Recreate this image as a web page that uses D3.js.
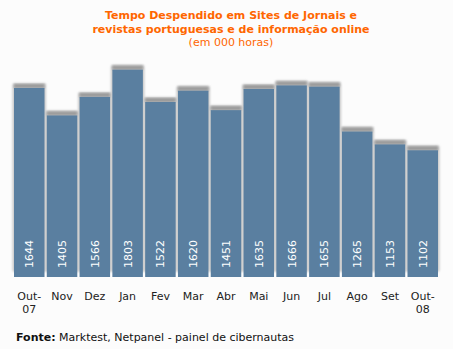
<!DOCTYPE html>
<html><head><meta charset="utf-8">
<script src="https://cdn.jsdelivr.net/npm/d3@7"></script>
<style>body{margin:0;background:#fcfcfc}svg{display:block}</style>
</head><body>
<script>
const months = ["Out-|07","Nov","Dez","Jan","Fev","Mar","Abr","Mai","Jun","Jul","Ago","Set","Out-|08"];
const values = [1644,1405,1566,1803,1522,1620,1451,1635,1666,1655,1265,1153,1102];
const titleLines = ["Tempo Despendido em Sites de Jornais e","revistas portuguesas e de informação online"];
const subtitle = "(em 000 horas)";

const W=453,H=349;
const svg=d3.select("body").append("svg").attr("width",W).attr("height",H);
svg.append("rect").attr("width",W).attr("height",H).attr("fill","#fcfcfc");
const defs=svg.append("defs");
const f=defs.append("filter").attr("id","blur").attr("x","-20%").attr("y","-20%").attr("width","140%").attr("height","140%");
f.append("feGaussianBlur").attr("stdDeviation",1.2);

const font="DejaVu Sans, Verdana, sans-serif";
const x=d3.scaleBand().domain(d3.range(months.length)).range([14,438]).paddingInner(0.07).paddingOuter(0);
const y=d3.scaleLinear().domain([0,2000]).range([277,47]);

const g=svg.append("g");
g.selectAll("rect.sh").data(values).join("rect")
 .attr("x",(d,i)=>x(i)-1.5).attr("width",x.bandwidth()+3)
 .attr("y",d=>y(d)-5).attr("height",d=>y(0)-y(d))
 .attr("rx",2).attr("fill","#c8c8c8").attr("filter","url(#blur)");
g.selectAll("rect.sh2").data(values).join("rect")
 .attr("x",(d,i)=>x(i)).attr("width",x.bandwidth())
 .attr("y",d=>y(d)-4).attr("height",4)
 .attr("fill","#9a9a9a").attr("filter","url(#blur)");
g.selectAll("rect.bar").data(values).join("rect")
 .attr("x",(d,i)=>x(i)).attr("width",x.bandwidth())
 .attr("y",d=>y(d)).attr("height",d=>y(0)-y(d))
 .attr("fill","#5a7fa0");
g.selectAll("text.v").data(values).join("text")
 .attr("transform",(d,i)=>`translate(${x(i)+x.bandwidth()/2+4},268) rotate(-90)`)
 .attr("fill","#fff").attr("font-family",font).attr("font-size",11)
 .text(d=>d);

months.forEach((m,i)=>{
  const parts=m.split("|");
  const t=svg.append("text").attr("x",x(i)+x.bandwidth()/2).attr("y",300)
    .attr("text-anchor","middle").attr("font-family",font).attr("font-size",11).attr("fill","#222");
  parts.forEach((p,j)=>t.append("tspan").attr("x",x(i)+x.bandwidth()/2).attr("dy",j?13:0).text(p));
});

titleLines.forEach((l,i)=>svg.append("text").attr("x",231).attr("y",19+i*13.5)
  .attr("text-anchor","middle").attr("font-family",font).attr("font-weight","bold")
  .attr("font-size",11).attr("fill","#ff6600").text(l));
svg.append("text").attr("x",231).attr("y",46).attr("text-anchor","middle")
  .attr("font-family",font).attr("font-size",11).attr("fill","#ff6600").text(subtitle);

const ft=svg.append("text").attr("x",16).attr("y",341).attr("font-family",font).attr("font-size",11).attr("fill","#111");
ft.append("tspan").attr("font-weight","bold").text("Fonte:");
ft.append("tspan").text(" Marktest, Netpanel - painel de cibernautas");
</script>
</body></html>
